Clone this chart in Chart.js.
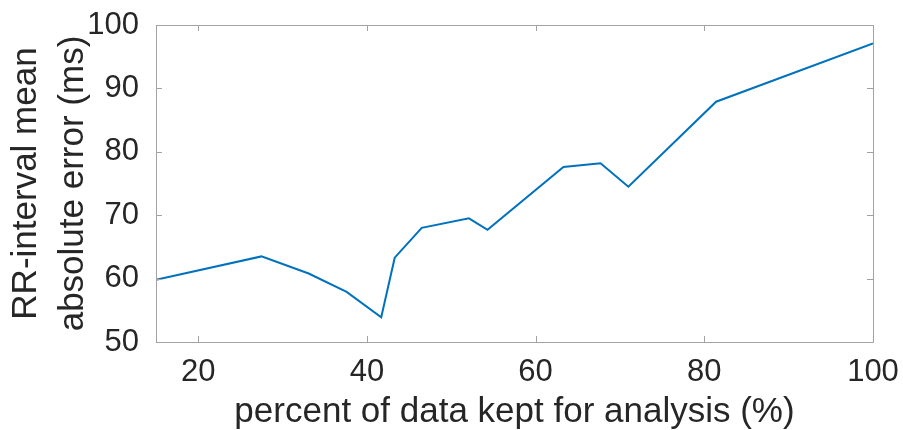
<!DOCTYPE html>
<html>
<head>
<meta charset="utf-8">
<script src="https://cdn.jsdelivr.net/npm/chart.js@4"></script>
<style>
  html, body { margin: 0; padding: 0; background: #fff; }
  canvas { display: block; }
</style>
</head>
<body>
<canvas id="chart" width="903" height="430"></canvas>
<script>
// data
const percentKept = [15, 27.5, 33.1, 37.6, 41.7, 43.3, 46.5, 52.1, 54.3, 63.3, 67.7, 71.0, 81.4, 100];
const meanAbsError = [59.8, 63.5, 60.8, 57.9, 53.9, 63.3, 68.0, 69.5, 67.7, 77.6, 78.2, 74.5, 87.9, 97.1];
const xTicks = [20, 40, 60, 80, 100];
const yTicks = [50, 60, 70, 80, 90, 100];

const fontFamily = '"Liberation Sans", Helvetica, Arial, sans-serif';
const textColor = '#262626';
const axisColor = '#a3a3a3';
const lineColor = '#0072BD';

// MATLAB style box with inward ticks on all four sides
const boxTicks = {
    id: 'boxTicks',
    afterDraw(chart) {
        const { ctx, chartArea: a, scales: { x, y } } = chart;
        const len = 6;
        ctx.save();
        ctx.strokeStyle = axisColor;
        ctx.lineWidth = 1;
        ctx.beginPath();
        ctx.rect(Math.round(a.left) + 0.5, Math.round(a.top) + 0.5,
            Math.round(a.right - a.left), Math.round(a.bottom - a.top));
        x.ticks.forEach(t => {
            const px = Math.round(x.getPixelForValue(t.value)) + 0.5;
            ctx.moveTo(px, a.bottom); ctx.lineTo(px, a.bottom - len);
            ctx.moveTo(px, a.top); ctx.lineTo(px, a.top + len);
        });
        y.ticks.forEach(t => {
            const py = Math.round(y.getPixelForValue(t.value)) + 0.5;
            ctx.moveTo(a.left, py); ctx.lineTo(a.left + len, py);
            ctx.moveTo(a.right, py); ctx.lineTo(a.right - len, py);
        });
        ctx.stroke();
        ctx.restore();
    }
};

new Chart(document.getElementById('chart'), {
    type: 'line',
    data: {
        datasets: [{
            data: percentKept.map((v, i) => ({ x: v, y: meanAbsError[i] })),
            borderColor: lineColor,
            borderWidth: 2,
            pointRadius: 0,
            tension: 0,
            fill: false
        }]
    },
    options: {
        responsive: false,
        animation: false,
        layout: { padding: { left: 0, top: 25, right: 30, bottom: 0 } },
        plugins: {
            legend: { display: false },
            tooltip: { enabled: false }
        },
        scales: {
            x: {
                type: 'linear',
                min: 15,
                max: 100,
                grid: { display: false },
                border: { display: false },
                afterBuildTicks: s => { s.ticks = xTicks.map(v => ({ value: v })); },
                afterFit: s => {
                    s.height = 88;
                    s.paddingLeft = 0;
                    s.paddingRight = 0;
                },
                ticks: {
                    color: textColor,
                    padding: 4,
                    maxRotation: 0,
                    font: { family: fontFamily, size: 31 }
                },
                title: {
                    display: true,
                    text: 'percent of data kept for analysis (%)',
                    color: textColor,
                    padding: { top: 0, bottom: 0 },
                    font: { family: fontFamily, size: 35, lineHeight: 1.0 }
                }
            },
            y: {
                type: 'linear',
                min: 50,
                max: 100,
                grid: { display: false },
                border: { display: false },
                afterBuildTicks: s => { s.ticks = yTicks.map(v => ({ value: v })); },
                afterFit: s => {
                    s.width = 156;
                    s.paddingTop = 0;
                    s.paddingBottom = 0;
                },
                ticks: {
                    color: textColor,
                    padding: 9,
                    font: { family: fontFamily, size: 31 }
                },
                title: {
                    display: true,
                    text: ['RR-interval mean', 'absolute error (ms)'],
                    color: textColor,
                    padding: { top: 3, bottom: 0 },
                    font: { family: fontFamily, size: 35, lineHeight: 1.34 }
                }
            }
        }
    },
    plugins: [boxTicks]
});
</script>
</body>
</html>
